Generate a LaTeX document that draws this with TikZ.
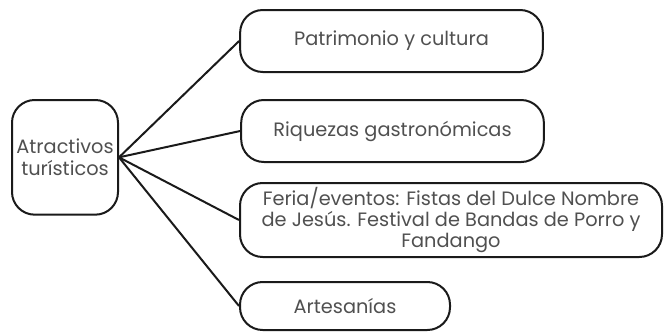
\documentclass[tikz,border=0pt]{standalone}
\usepackage{fontspec}
\usepackage{xcolor}
\setmainfont{Poppins}
\definecolor{C505050}{HTML}{505050}
\definecolor{C1A1A1A}{HTML}{1A1A1A}

\begin{document}
\begin{tikzpicture}[inner sep=0pt,
  box/.style={draw=C1A1A1A, line width=1.5pt, rounded corners=17pt, fill=white, align=center, text=C505050, font=\fontsize{14.5}{16}\selectfont},
  link/.style={-,line width=1.5pt,draw=C1A1A1A}]
\useasboundingbox (0pt,0pt) rectangle (498pt,-249pt);

\node (n0) [box, minimum height=86pt, minimum width=79.5pt, at={(48.75pt,-118pt)}] {Atractivos\\turísticos};
\node (n1) [box, minimum height=46.5pt, minimum width=227pt, at={(293.6pt,-30.75pt)}] {Patrimonio y cultura};
\node (n2) [box, minimum height=46.5pt, minimum width=227pt, at={(294.4pt,-98.25pt)}] {Riquezas gastronómicas};
\node (n3) [box, minimum height=55.5pt, minimum width=316.5pt, at={(338.25pt,-165pt)}] {Feria/eventos: Fistas del Dulce Nombre\\de Jesús. Festival de Bandas de Porro y\\Fandango};
\node (n4) [box, minimum height=36pt, minimum width=157.5pt, at={(258.75pt,-229.5pt)}] {Artesanías};

\path [link](n0.east)--(n1.west);
\path [link](n0.east)--(n2.west);
\path [link](n0.east)--(n3.west);
\path [link](n0.east)--(n4.west);
\end{tikzpicture}
\end{document}
